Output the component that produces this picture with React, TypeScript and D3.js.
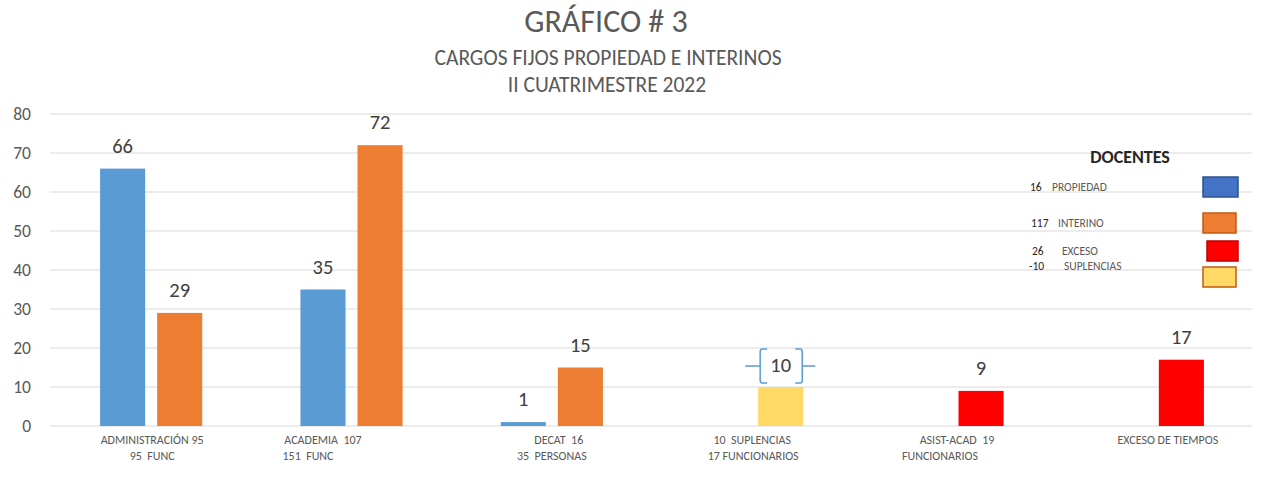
import React from "react";
import * as d3 from "d3";

const categories = ["ADMIN", "ACADEMIA", "DECAT", "SUPLENCIAS", "ASIST", "EXCESO"];
const labelLines: string[][] = [
  ["ADMINISTRACIÓN 95", "95  FUNC"],
  ["ACADEMIA  107", "151  FUNC"],
  ["DECAT  16", "35  PERSONAS"],
  ["10  SUPLENCIAS", "17 FUNCIONARIOS"],
  ["ASIST-ACAD  19", "FUNCIONARIOS"],
  ["EXCESO DE TIEMPOS"],
];
const propiedad: (number | null)[] = [66, 35, 1, null, null, null];
const interino: number[] = [29, 72, 15, 10, 9, 17];
const interinoKinds = ["interino", "interino", "interino", "suplencias", "exceso", "exceso"];
const yTicks = [0, 10, 20, 30, 40, 50, 60, 70, 80];
const legendItems = [
  { num: "16", name: "PROPIEDAD", kind: "propiedadLegend" },
  { num: "117", name: "INTERINO", kind: "interino" },
  { num: "26", name: "EXCESO", kind: "exceso" },
  { num: "-10", name: "SUPLENCIAS", kind: "suplencias" },
];

const fills: Record<string, string> = {
  propiedad: "#5B9BD5",
  propiedadLegend: "#4472C4",
  interino: "#ED7D31",
  suplencias: "#FFD966",
  exceso: "#FF0000",
};
const strokes: Record<string, string> = {
  propiedadLegend: "#2F528F",
  interino: "#C55A11",
  suplencias: "#C55A11",
  exceso: "#C00000",
};

// per-line horizontal tweaks of axis label lines (layout)
const lineDx: number[][] = [
  [2, 2],
  [-27.5, -42.5],
  [8, 1],
  [1, 2],
  [5.5, -11.5],
  [16],
];

export default function App() {
  const W = 1267, H = 501;
  const left = 50, right = 1252, top = 114, bottom = 426;
  const x0 = d3.scaleBand<string>().domain(categories).range([left, right]).padding(0);
  const x1 = d3
    .scaleBand<number>()
    .domain([0, 1])
    .range([x0.bandwidth() * 0.25, x0.bandwidth() * 0.76])
    .paddingInner(0.21);
  const y = d3.scaleLinear().domain([0, 80]).range([bottom, top]);
  const font = "Carlito, 'Liberation Sans', Arial, sans-serif";
  const textColor = "#595959";
  const labelColor = "#404040";

  // legend layout
  const legY = [187, 223, 251, 266];
  const numX = [1030, 1031, 1032, 1029];
  const nameX = [1052, 1058, 1062, 1064];
  const boxY = [177, 213, 241, 267];
  const boxX = [1203, 1203, 1207, 1203];
  const boxW = [35, 33, 31, 33];

  return (
    <svg width={W} height={H} style={{ display: "block", position: "absolute", left: 0, top: 0 }} fontFamily={font}>
      <rect x={0} y={0} width={W} height={H} fill="#fff" />
      <text x={606} y={32} textAnchor="middle" fontSize={32} fill={textColor}>GRÁFICO # 3</text>
      <text x={608} y={64.5} textAnchor="middle" fontSize={21.5} fill={textColor}>CARGOS FIJOS PROPIEDAD E INTERINOS</text>
      <text x={607} y={91.5} textAnchor="middle" fontSize={21.5} fill={textColor}>II CUATRIMESTRE 2022</text>

      {yTicks.map((t) => (
        <g key={t}>
          <line x1={left} x2={right} y1={y(t)} y2={y(t)} stroke="#D9D9D9" strokeWidth={1} />
          <text x={31} y={y(t) + 5.5} textAnchor="end" fontSize={17.5} fill={textColor}>{t}</text>
        </g>
      ))}

      {categories.map((c, i) => {
        const g = x0(c)!;
        const pv = propiedad[i];
        const iv = interino[i];
        const kind = interinoKinds[i];
        const bx0 = g + x1(0)!;
        const bx1 = g + x1(1)!;
        const bw = x1.bandwidth();
        return (
          <g key={c}>
            {pv !== null && (
              <>
                <rect x={bx0} y={y(pv)} width={bw} height={y(0) - y(pv)} fill={fills.propiedad} />
                <text x={bx0 + bw / 2} y={y(pv) - 16} textAnchor="middle" fontSize={20.5} fill={labelColor}>{pv}</text>
              </>
            )}
            <rect x={bx1} y={y(iv)} width={bw} height={y(0) - y(iv)} fill={fills[kind]} />
            {kind === "suplencias" ? (
              <g>
                <path
                  d={`M${bx1 - 13},${y(iv) - 21} H${bx1 + 2} M${bx1 + 9},${y(iv) - 38} H${bx1 + 4} Q${bx1 + 2},${y(iv) - 38} ${bx1 + 2},${y(iv) - 35} V${y(iv) - 7} Q${bx1 + 2},${y(iv) - 4} ${bx1 + 4},${y(iv) - 4} H${bx1 + 9}`}
                  fill="none"
                  stroke="#5B9BD5"
                  strokeWidth={1.5}
                />
                <path
                  d={`M${bx1 + bw + 12},${y(iv) - 21} H${bx1 + bw - 1} M${bx1 + bw - 8},${y(iv) - 38} H${bx1 + bw - 3} Q${bx1 + bw - 1},${y(iv) - 38} ${bx1 + bw - 1},${y(iv) - 35} V${y(iv) - 7} Q${bx1 + bw - 1},${y(iv) - 4} ${bx1 + bw - 3},${y(iv) - 4} H${bx1 + bw - 8}`}
                  fill="none"
                  stroke="#5B9BD5"
                  strokeWidth={1.5}
                />
                <text x={bx1 + bw / 2} y={y(iv) - 15} textAnchor="middle" fontSize={20.5} fill={labelColor}>{iv}</text>
              </g>
            ) : (
              <text x={bx1 + bw / 2} y={y(iv) - 16} textAnchor="middle" fontSize={20.5} fill={labelColor}>{iv}</text>
            )}
            {labelLines[i].map((ln, j) => (
              <text
                key={j}
                x={g + x0.bandwidth() / 2 + lineDx[i][j]}
                y={444 + j * 16}
                textAnchor="middle"
                fontSize={12}
                fill={textColor}
                style={{ whiteSpace: "pre" }}
              >
                {ln}
              </text>
            ))}
          </g>
        );
      })}

      <text x={1130} y={163} textAnchor="middle" fontSize={18} fontWeight="bold" fill="#262626">DOCENTES</text>
      {legendItems.map((it, i) => (
        <g key={it.name}>
          <text x={numX[i]} y={legY[i] + 4} fontSize={11.5} fill="#262626">
            {it.num}
          </text>
          <text x={nameX[i]} y={legY[i] + 4} fontSize={11.5} fill={textColor}>
            {it.name}
          </text>
          <rect
            x={boxX[i]}
            y={boxY[i]}
            width={boxW[i]}
            height={20}
            fill={fills[it.kind]}
            stroke={strokes[it.kind]}
            strokeWidth={1.5}
          />
        </g>
      ))}
    </svg>
  );
}
